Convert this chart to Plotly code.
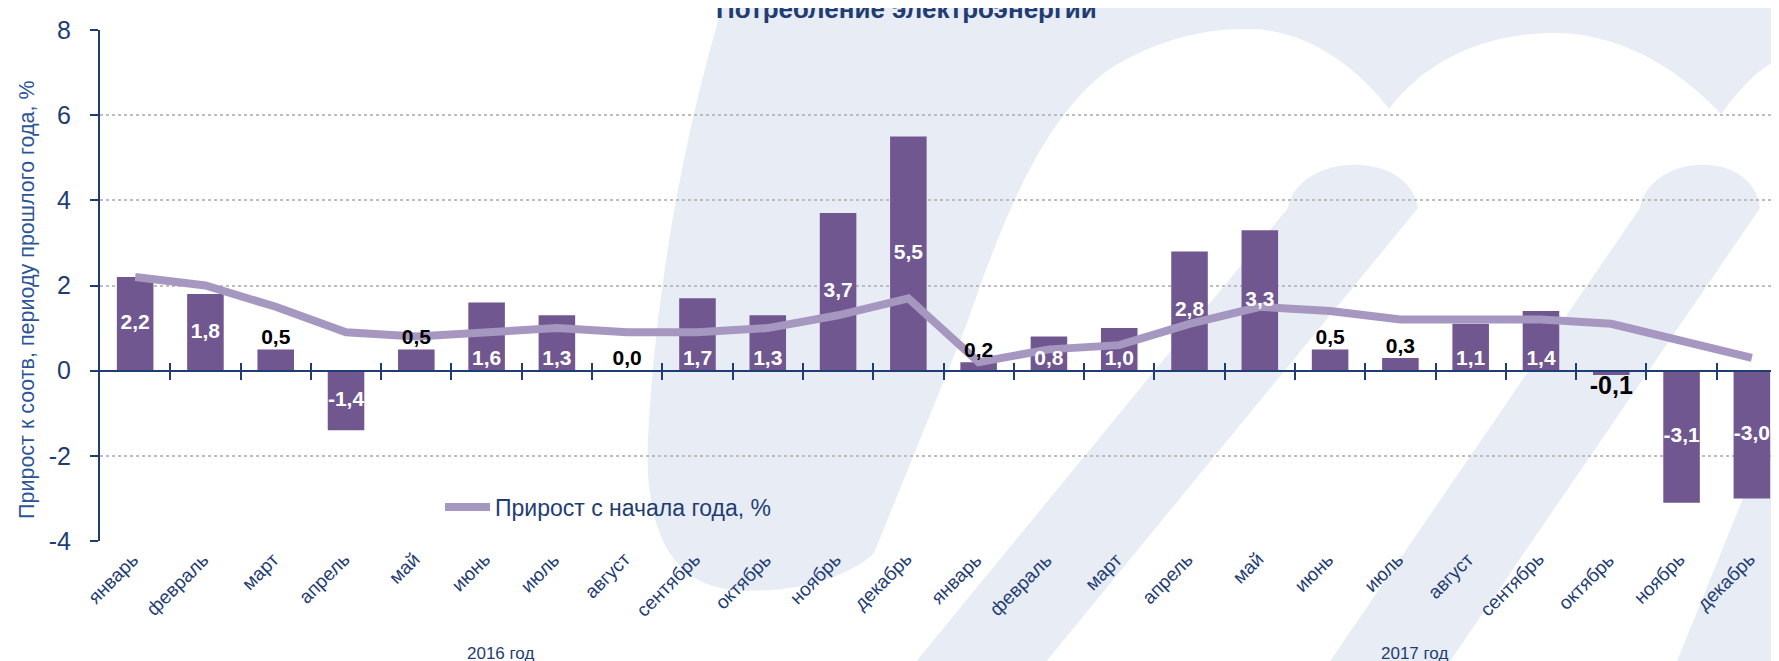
import plotly.graph_objects as go

# ---------------- data ----------------
months = ["январь", "февраль", "март", "апрель", "май", "июнь", "июль", "август",
          "сентябрь", "октябрь", "ноябрь", "декабрь",
          "январь", "февраль", "март", "апрель", "май", "июнь", "июль", "август",
          "сентябрь", "октябрь", "ноябрь", "декабрь"]
years = ["2016 год", "2017 год"]
yoy_growth = [2.2, 1.8, 0.5, -1.4, 0.5, 1.6, 1.3, 0.0, 1.7, 1.3, 3.7, 5.5,
              0.2, 0.8, 1.0, 2.8, 3.3, 0.5, 0.3, 1.1, 1.4, -0.1, -3.1, -3.0]
ytd_growth = [2.2, 2.0, 1.5, 0.9, 0.8, 0.9, 1.0, 0.9, 0.9, 1.0, 1.3, 1.7,
              0.2, 0.5, 0.6, 1.1, 1.5, 1.4, 1.2, 1.2, 1.2, 1.1, 0.7, 0.3]
y_ticks = [-4, -2, 0, 2, 4, 6, 8]

title_text = "Потребление электроэнергии"
y_title = "Прирост к соотв, периоду прошлого года, %"
line_name = "Прирост с начала года, %"

# ---------------- styling ----------------
W, H = 1779, 661
ML, MR, MT, MB = 92, 0, 22, 128
PW, PH = W - ML - MR, H - MT - MB
NAVY = "#1F3D73"
BLUE = "#2B5597"
BAR = "#70578F"
LINE = "#A597C0"
WM = "#E8ECF4"
FONT = "Liberation Sans, Arial, sans-serif"

x = list(range(len(months)))
n = len(months)


def fmt(v):
    return f"{v:.1f}".replace(".", ",")


# label placement rules (derived from the values)
def kind(v):
    if abs(v) < 0.6:
        return "out"
    if 0.6 <= v < 1.75:
        return "base"
    return "mid"


lab_y, lab_pos, lab_col, lab_size = [], [], [], []
for v in yoy_growth:
    k = kind(v)
    if k == "out":
        lab_y.append(v)
        lab_pos.append("bottom center" if v < 0 else "top center")
        lab_col.append("black")
        lab_size.append(25 if v < 0 else 21)
    elif k == "base":
        lab_y.append(0)
        lab_pos.append("top center")
        lab_col.append("white")
        lab_size.append(21)
    else:
        lab_y.append(v / 2)
        lab_pos.append("middle center")
        lab_col.append("white")
        lab_size.append(21)
labels = [fmt(v) for v in yoy_growth]

fig = go.Figure()

fig.add_trace(go.Bar(
    x=x, y=yoy_growth, width=0.52, marker=dict(color=BAR, line=dict(width=0)),
    showlegend=False, hoverinfo="skip",
))
fig.add_trace(go.Scatter(
    x=x, y=ytd_growth, mode="lines", name=line_name,
    line=dict(color=LINE, width=8), hoverinfo="skip",
))
fig.add_trace(go.Scatter(
    x=x, y=lab_y, mode="text", text=labels, textposition=lab_pos,
    textfont=dict(family=FONT, size=lab_size, color=lab_col, weight="bold"),
    showlegend=False, hoverinfo="skip", cliponaxis=False,
))


# ---------------- decorative watermark (logo) ----------------
def P(px, py):
    return f"{(px - ML) / PW:.5f},{(H - MB - py) / PH:.5f}"


def path(cmds):
    return " ".join(c if isinstance(c, str) else P(*c) for c in cmds)


wm_paths = [
    # big left arc + top scallops
    ["M", (717, -10), "C", (680, 110), (648, 270), (640, 430),
     "C", (636, 520), (662, 578), (728, 582),
     "C", (790, 586), (842, 568), (866, 545),
     "L", (958, 318),
     "C", (995, 210), (1035, 110), (1100, 62),
     "C", (1150, 30), (1200, 20), (1243, 21),
     "C", (1300, 22), (1350, 60), (1381, 101),
     "C", (1420, 50), (1480, 25), (1547, 25),
     "C", (1620, 25), (1680, 70), (1713, 106),
     "C", (1740, 70), (1760, 50), (1800, 40),
     "L", (1800, -10), "Z"],
    # stripe 1
    ["M", (1280, 200), "C", (1290, 145), (1400, 140), (1410, 200),
     "L", (1000, 700), "L", (870, 700), "Z"],
    # stripe 2
    ["M", (1632, 200), "C", (1642, 145), (1745, 140), (1752, 200),
     "L", (1410, 700), "L", (1290, 700), "Z"],
    # stripe 3 (right edge)
    ["M", (1800, 330), "L", (1650, 700), "L", (1800, 700), "Z"],
]
shapes = [dict(type="path", xref="paper", yref="paper", path=path(p),
               fillcolor=WM, line=dict(width=0), layer="below") for p in wm_paths]

# ---------------- layout ----------------
year_pos = [5.2, 18.2]
annotations = [
    dict(text=f"<b>{title_text}</b>", xref="paper", yref="paper",
         x=(898 - ML) / PW, y=(H - MB - 1) / PH, xanchor="center", yanchor="middle",
         showarrow=False, font=dict(family=FONT, size=26, color=NAVY)),
    dict(text=y_title, xref="paper", yref="paper", textangle=-90,
         x=(19 - ML) / PW, y=(H - MB - 292) / PH, xanchor="center", yanchor="middle",
         showarrow=False, font=dict(family=FONT, size=21.5, color=BLUE)),
]
# rotated month labels under the plot
for i, m in zip(x, months):
    annotations.append(dict(text=m, xref="x", yref="paper", x=i, xshift=10,
                            y=(H - MB - 538) / PH, xanchor="right", yanchor="top",
                            textangle=-45, showarrow=False,
                            font=dict(family=FONT, size=19, color=NAVY)))
for yr, xp in zip(years, year_pos):
    annotations.append(dict(text=yr, xref="x", yref="paper", x=xp,
                            y=(H - MB - 645) / PH, xanchor="center", yanchor="middle",
                            showarrow=False, font=dict(family=FONT, size=17, color=NAVY)))

zero_pos = (0 - y_ticks[0]) / (y_ticks[-1] - y_ticks[0])
boundaries = [i + 0.5 for i in range(n - 1)]

fig.update_layout(
    width=W, height=H, margin=dict(l=ML, r=MR, t=MT, b=MB, pad=0),
    paper_bgcolor="white", plot_bgcolor="rgba(0,0,0,0)",
    bargap=0.48,
    font=dict(family=FONT, color=NAVY),
    shapes=shapes, annotations=annotations,
    showlegend=True,
    legend=dict(x=(432 - ML) / PW, y=(H - MB - 499) / PH, xanchor="left", yanchor="middle",
                bgcolor="rgba(0,0,0,0)", font=dict(family=FONT, size=23, color=NAVY),
                itemwidth=45, tracegroupgap=0, borderwidth=0),
    xaxis=dict(range=[-0.5, n - 0.5], tickvals=x, showticklabels=False,
               showgrid=False, zeroline=False, showline=False, ticks=""),
    xaxis2=dict(overlaying="x", anchor="free", position=zero_pos, range=[-0.5, n - 0.5],
                tickvals=boundaries, showticklabels=False, ticks="outside", ticklen=8,
                tickwidth=2, tickcolor=NAVY, showline=True, linecolor=NAVY, linewidth=2,
                showgrid=False, zeroline=False),
    xaxis3=dict(overlaying="x", anchor="free", position=zero_pos, range=[-0.5, n - 0.5],
                tickvals=boundaries, showticklabels=False, ticks="inside", ticklen=8,
                tickwidth=2, tickcolor=NAVY, showline=False,
                showgrid=False, zeroline=False),
    yaxis=dict(range=[y_ticks[0], y_ticks[-1]], tickvals=y_ticks,
               ticktext=[str(t) for t in y_ticks], showgrid=True,
               gridcolor="#BDBDBD", griddash="dot", gridwidth=1.5, zeroline=False,
               showline=True, linecolor=NAVY, linewidth=2, ticks="outside", ticklen=8,
               tickwidth=2, tickcolor=NAVY, ticklabelstandoff=14,
               tickfont=dict(family=FONT, size=25, color=NAVY)),
)

# invisible traces so the overlay axes render
fig.add_trace(go.Scatter(x=[None], y=[None], xaxis="x2", showlegend=False, hoverinfo="skip"))
fig.add_trace(go.Scatter(x=[None], y=[None], xaxis="x3", showlegend=False, hoverinfo="skip"))

fig.write_html("out.html")
